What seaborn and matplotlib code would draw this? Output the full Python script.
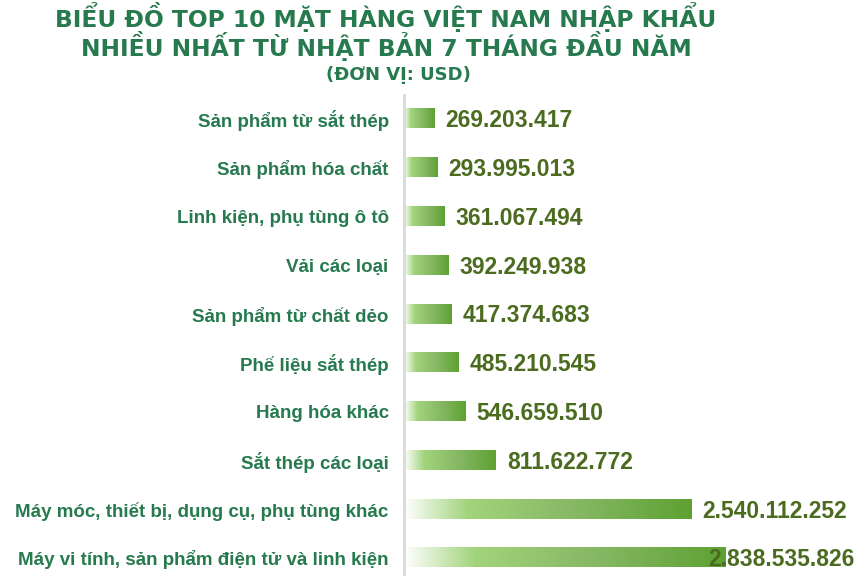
import numpy as np
import pandas as pd
import matplotlib
matplotlib.use("Agg")
import matplotlib.pyplot as plt
from matplotlib.colors import LinearSegmentedColormap
import seaborn as sns

# data (USD)
items = [
    "Sản phẩm từ sắt thép",
    "Sản phẩm hóa chất",
    "Linh kiện, phụ tùng ô tô",
    "Vải các loại",
    "Sản phẩm từ chất dẻo",
    "Phế liệu sắt thép",
    "Hàng hóa khác",
    "Sắt thép các loại",
    "Máy móc, thiết bị, dụng cụ, phụ tùng khác",
    "Máy vi tính, sản phẩm điện tử và linh kiện",
]
values = [269203417, 293995013, 361067494, 392249938, 417374683,
          485210545, 546659510, 811622772, 2540112252, 2838535826]

df = pd.DataFrame({"item": items, "value": values})

title_green = "#267a4e"
value_green = "#4b6b1f"

sns.set_theme(style="white")
plt.rcParams["font.family"] = ["Liberation Sans", "DejaVu Sans"]

fig = plt.figure(figsize=(8.57, 5.76), dpi=100)
ax = fig.add_axes([404 / 857, 0.0, 1 - 404 / 857, 1 - 95 / 576])

sns.barplot(data=df, x="value", y="item", orient="h", width=0.39,
            color="#6aab3c", ax=ax)

xmax = 4.0e9
ax.set_xlim(0, xmax)
ax.set_ylim(9.37, -0.49)

# gradient fill for every bar
grad = LinearSegmentedColormap.from_list(
    "g", [(0.0, "#ffffff"), (0.22, "#a2d47c"), (0.6, "#86b864"), (1.0, "#5ea132")])
ramp = np.linspace(0, 1, 256).reshape(1, -1)
for p in ax.patches:
    x0, y0 = p.get_x(), p.get_y()
    w, h = p.get_width(), p.get_height()
    p.set_facecolor("none")
    p.set_edgecolor("none")
    ax.imshow(ramp, cmap=grad, aspect="auto", extent=(x0, x0 + w, y0 + h, y0),
              interpolation="bilinear", zorder=2)

# value labels
for i, v in enumerate(values):
    txt = f"{v:,}".replace(",", ".")
    tx = v + 0.024 * xmax
    if tx + 0.33 * xmax > xmax:
        ax.text(0.995, i + 0.04, txt, transform=ax.get_yaxis_transform(), ha="right",
                va="center", fontsize=16.5, fontweight="bold", color=value_green, zorder=3)
    else:
        ax.text(tx, i + 0.04, txt, ha="left", va="center", fontsize=16.5,
                fontweight="bold", color=value_green, zorder=3)

ax.set_xlabel("")
ax.set_ylabel("")
ax.set_xticks([])
ax.tick_params(axis="y", length=0, pad=11)
for lab in ax.get_yticklabels():
    lab.set_fontsize(13.5)
    lab.set_fontweight("bold")
    lab.set_color(title_green)
for s in ["top", "right", "bottom"]:
    ax.spines[s].set_visible(False)
ax.spines["left"].set_color("#d9d9d9")
ax.spines["left"].set_linewidth(2)

title_font = dict(family="DejaVu Sans", fontweight="bold", color=title_green)
fig.text(386 / 857, 1 - 27 / 576, "BIỂU ĐỒ TOP 10 MẶT HÀNG VIỆT NAM NHẬP KHẨU",
         ha="center", va="baseline", fontsize=16.8, **title_font)
fig.text(386 / 857, 1 - 56 / 576, "NHIỀU NHẤT TỪ NHẬT BẢN 7 THÁNG ĐẦU NĂM",
         ha="center", va="baseline", fontsize=16.8, **title_font)
fig.text(398 / 857, 1 - 80 / 576, "(ĐƠN VỊ: USD)",
         ha="center", va="baseline", fontsize=13, **title_font)

fig.savefig("out.png", dpi=100)
